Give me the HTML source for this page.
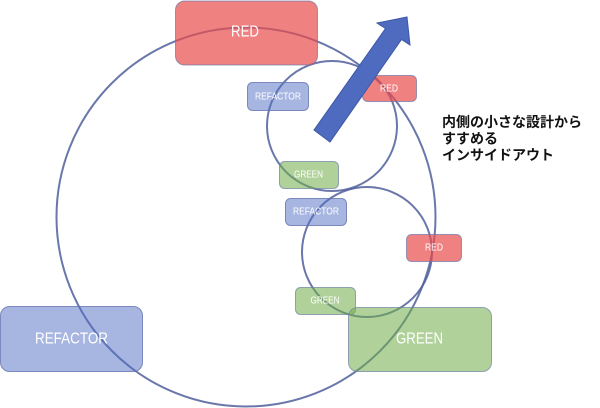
<!DOCTYPE html>
<html><head><meta charset="utf-8"><style>
html,body{margin:0;padding:0;background:#fff;width:600px;height:408px;overflow:hidden}
svg{display:block}
.t{font-family:"Liberation Sans","Noto Sans CJK JP",sans-serif;fill:#fff;text-anchor:middle;dominant-baseline:central}
.jp{font-family:"Liberation Sans","Noto Sans CJK JP",sans-serif;font-weight:bold;font-size:14px;fill:#111}
.r{fill:rgba(233,76,76,0.7);stroke:rgba(110,120,170,0.7);stroke-width:1}
.g{fill:rgba(112,173,71,0.55);stroke:rgba(110,130,160,0.7);stroke-width:1}
.b{fill:rgba(80,110,195,0.5);stroke:rgba(100,115,175,0.8);stroke-width:1}
.c{fill:none;stroke:rgba(80,95,155,0.85);stroke-width:2}
</style></head><body>
<svg width="600" height="408" viewBox="0 0 600 408" xmlns="http://www.w3.org/2000/svg">
<circle class="c" cx="246" cy="217" r="189.5"/>
<circle class="c" cx="332" cy="126" r="65"/>
<circle class="c" cx="367" cy="252" r="65"/>

<rect class="r" x="175.5" y="1" width="142" height="64" rx="9"/>
<text class="t" x="245" y="32" font-size="16" textLength="28" lengthAdjust="spacingAndGlyphs">RED</text>

<rect class="b" x="247.5" y="82.5" width="61" height="28" rx="5"/>
<text class="t" x="278" y="97" font-size="10" textLength="46" lengthAdjust="spacingAndGlyphs">REFACTOR</text>

<rect class="r" x="362.5" y="75.5" width="54" height="26" rx="5"/>
<text class="t" x="389" y="89" font-size="10" textLength="18" lengthAdjust="spacingAndGlyphs">RED</text>

<rect class="g" x="279.5" y="161.5" width="59" height="27" rx="5"/>
<text class="t" x="308.5" y="175" font-size="10" textLength="29" lengthAdjust="spacingAndGlyphs">GREEN</text>

<rect class="b" x="285.5" y="198.5" width="61" height="27" rx="5"/>
<text class="t" x="316" y="212" font-size="10" textLength="46" lengthAdjust="spacingAndGlyphs">REFACTOR</text>

<rect class="r" x="406.5" y="234.5" width="55" height="27" rx="5"/>
<text class="t" x="434" y="248" font-size="10" textLength="18" lengthAdjust="spacingAndGlyphs">RED</text>

<rect class="g" x="295.5" y="287.5" width="60" height="27" rx="5"/>
<text class="t" x="325" y="301" font-size="10" textLength="29" lengthAdjust="spacingAndGlyphs">GREEN</text>

<rect class="g" x="348.5" y="307.5" width="143" height="64" rx="9"/>
<text class="t" x="419.5" y="339" font-size="16" textLength="47" lengthAdjust="spacingAndGlyphs">GREEN</text>

<rect class="b" x="0.5" y="306.5" width="142" height="65" rx="9"/>
<text class="t" x="71.5" y="339" font-size="16" textLength="73" lengthAdjust="spacingAndGlyphs">REFACTOR</text>

<polygon points="314,130 385.5,28.5 377,23 407,17 410,45 401.5,39.5 330,142" fill="#4f6bbf" stroke="#3f58a6" stroke-width="1"/>

<text class="jp" x="442" y="127">内側の小さな設計から</text>
<text class="jp" x="442" y="143.5">すすめる</text>
<text class="jp" x="442" y="160">インサイドアウト</text>
</svg>
</body></html>
